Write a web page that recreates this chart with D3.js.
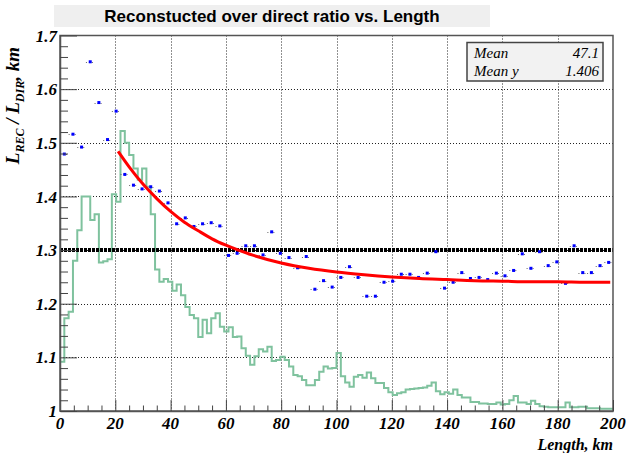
<!DOCTYPE html>
<html>
<head>
<meta charset="utf-8">
<script src="https://cdn.jsdelivr.net/npm/d3@7.9.0/dist/d3.min.js"></script>
<style>
  body { margin: 0; background: #fff; }
  svg { display: block; }
</style>
</head>
<body>
<div id="chart"></div>
<script>
// ---- data ----
const titleText = 'Reconstucted over direct ratio vs. Length';
const xTicks = [0, 20, 40, 60, 80, 100, 120, 140, 160, 180, 200];
const yTicks = [1, 1.1, 1.2, 1.3, 1.4, 1.5, 1.6, 1.7];
const yTickLabels = ['1', '1.1', '1.2', '1.3', '1.4', '1.5', '1.6', '1.7'];
const statsLabels = ['Mean', 'Mean y'];
const statsValues = ['47.1', '1.406'];
const refLevel = 1.3;

// profile: 64 bins over 0..200 km
const profileBins = 64;
const profileY = [
  1.479, 1.516, 1.492, 1.651, 1.575, 1.506, 1.559, 1.441, 1.421, 1.414,
  1.418, 1.410, 1.388, 1.349, 1.360, 1.344, 1.349, 1.351, 1.345, 1.290,
  1.294, 1.308, 1.308, 1.291, 1.334, 1.294, 1.286, 1.267, 1.288, 1.227,
  1.243, 1.231, 1.249, 1.269, 1.249, 1.214, 1.214, 1.240, 1.242, 1.255,
  1.255, 1.249, 1.257, 1.297, 1.229, 1.240, 1.258, 1.247, 1.249, 1.245,
  1.257, 1.252, 1.262, 1.293, 1.266, 1.297, 1.271, 1.278, 1.238, 1.308,
  1.258, 1.258, 1.271, 1.277
];

// length distribution (scaled into the frame), 128 bins over 0..200 km
const histBins = 128;
const histY = [
  1.092, 1.173, 1.185, 1.280, 1.337, 1.400, 1.400, 1.356, 1.367, 1.277,
  1.279, 1.283, 1.404, 1.390, 1.522, 1.500, 1.477, 1.452, 1.431, 1.452,
  1.418, 1.367, 1.264, 1.241, 1.246, 1.241, 1.224, 1.236, 1.216, 1.194,
  1.179, 1.173, 1.138, 1.170, 1.145, 1.173, 1.182, 1.157, 1.148, 1.156,
  1.138, 1.139, 1.117, 1.103, 1.086, 1.102, 1.115, 1.111, 1.120, 1.093,
  1.095, 1.101, 1.095, 1.083, 1.067, 1.065, 1.058, 1.048, 1.048, 1.058,
  1.073, 1.083, 1.079, 1.080, 1.108, 1.065, 1.053, 1.045, 1.064, 1.067,
  1.062, 1.072, 1.061, 1.052, 1.052, 1.043, 1.035, 1.030, 1.033, 1.035,
  1.040, 1.041, 1.042, 1.043, 1.044, 1.047, 1.053, 1.037, 1.031, 1.035,
  1.032, 1.040, 1.030, 1.025, 1.025, 1.017, 1.017, 1.014, 1.014, 1.013,
  1.013, 1.016, 1.012, 1.013, 1.020, 1.028, 1.016, 1.016, 1.013, 1.019,
  1.013, 1.009, 1.008, 1.007, 1.007, 1.007, 1.007, 1.016, 1.007, 1.007,
  1.008, 1.008, 1.005, 1.005, 1.005, 1.004, 1.004, 1.004
];

// fitted curve
const fitX = [21, 25, 30, 35, 40, 45, 50, 55, 60, 70, 80, 90, 100, 110, 120, 130, 140, 150, 160, 170, 180, 190, 199];
const fitY = [1.484, 1.455, 1.423, 1.396, 1.372, 1.352, 1.336, 1.321, 1.309, 1.290, 1.276, 1.266, 1.259, 1.254, 1.250, 1.247, 1.245, 1.243, 1.242, 1.241, 1.241, 1.240, 1.240];

// ---- layout ----
const width = 629;
const height = 453;
const frame = { left: 60, right: 613, top: 35.5, bottom: 411 };

const svg = d3.select('#chart')
  .append('svg')
  .attr('width', width)
  .attr('height', height);

const xScale = d3.scaleLinear().domain([0, 200]).range([frame.left, frame.right]);
const yScale = d3.scaleLinear().domain([1, 1.7]).range([frame.bottom, frame.top]);

// title box
svg.append('rect')
  .attr('x', 54).attr('y', 5)
  .attr('width', 436).attr('height', 22)
  .attr('fill', '#efefef');
svg.append('text')
  .attr('x', 272).attr('y', 22)
  .attr('text-anchor', 'middle')
  .style('font-family', '"Liberation Sans", Arial, sans-serif')
  .style('font-weight', 'bold')
  .style('font-size', '17px')
  .text(titleText);

// gridlines
const grid = svg.append('g').attr('class', 'grid')
  .attr('stroke', '#222')
  .attr('stroke-width', 1)
  .attr('stroke-dasharray', '1,2');

grid.selectAll('line.vx')
  .data(xTicks.slice(1, -1))
  .join('line')
  .attr('x1', d => Math.round(xScale(d)) + 0.5)
  .attr('x2', d => Math.round(xScale(d)) + 0.5)
  .attr('y1', frame.top)
  .attr('y2', frame.bottom);

grid.selectAll('line.hy')
  .data(yTicks.slice(1, -1))
  .join('line')
  .attr('x1', frame.left)
  .attr('x2', frame.right)
  .attr('y1', d => Math.round(yScale(d)) + 0.5)
  .attr('y2', d => Math.round(yScale(d)) + 0.5);

// histogram (step line)
const histBinW = 200 / histBins;
const histPts = histY.map((v, i) => [i * histBinW, v]);
histPts.push([200, histY[histY.length - 1]]);

svg.append('path')
  .datum(histPts)
  .attr('fill', 'none')
  .attr('stroke', '#7fc29e')
  .attr('stroke-width', 2)
  .attr('d', d3.line()
    .x(d => xScale(d[0]))
    .y(d => yScale(d[1]))
    .curve(d3.curveStepAfter));

// reference line at 1.3
svg.append('line')
  .attr('x1', frame.left).attr('x2', frame.right)
  .attr('y1', yScale(refLevel)).attr('y2', yScale(refLevel))
  .attr('stroke', '#000')
  .attr('stroke-width', 4)
  .attr('stroke-dasharray', '3,1');

// profile points with x error bars
const profBinW = 200 / profileBins;
const prof = profileY.map((v, i) => ({ x: (i + 0.5) * profBinW, y: v }));

const pts = svg.append('g').attr('class', 'points');

pts.selectAll('line')
  .data(prof)
  .join('line')
  .attr('x1', d => xScale(d.x - profBinW / 2))
  .attr('x2', d => xScale(d.x + profBinW / 2))
  .attr('y1', d => Math.round(yScale(d.y)) + 0.5)
  .attr('y2', d => Math.round(yScale(d.y)) + 0.5)
  .attr('stroke', '#666')
  .attr('stroke-width', 1)
  .attr('stroke-dasharray', '1,2');

pts.selectAll('rect')
  .data(prof)
  .join('rect')
  .attr('x', d => xScale(d.x) - 1.5)
  .attr('y', d => yScale(d.y) - 1.5)
  .attr('width', 3)
  .attr('height', 3)
  .attr('fill', '#0000ff');

// fit curve
svg.append('path')
  .datum(fitX.map((x, i) => [x, fitY[i]]))
  .attr('fill', 'none')
  .attr('stroke', '#ff0000')
  .attr('stroke-width', 3)
  .attr('d', d3.line()
    .x(d => xScale(d[0]))
    .y(d => yScale(d[1]))
    .curve(d3.curveMonotoneX));

// frame
svg.append('rect')
  .attr('x', frame.left).attr('y', frame.top)
  .attr('width', frame.right - frame.left)
  .attr('height', frame.bottom - frame.top)
  .attr('fill', 'none')
  .attr('stroke', '#555')
  .attr('stroke-width', 1.5);

// axes: ticks inside the frame
const labelFont = '"Liberation Serif", "Times New Roman", serif';

const xAxis = d3.axisTop(xScale)
  .tickValues(d3.range(0, 201, 5))
  .tickSize(0)
  .tickFormat('');
const xAxisG = svg.append('g')
  .attr('transform', `translate(0, ${frame.bottom})`)
  .call(xAxis);
xAxisG.select('.domain').attr('stroke', '#555').attr('stroke-width', 1.5);
xAxisG.selectAll('.tick line')
  .attr('y2', d => (d % 20 === 0 ? -11 : -5.5))
  .attr('stroke', '#444');

svg.append('g').selectAll('text')
  .data(xTicks)
  .join('text')
  .attr('x', d => xScale(d))
  .attr('y', 429)
  .attr('text-anchor', 'middle')
  .style('font-family', labelFont)
  .style('font-weight', 'bold')
  .style('font-style', 'italic')
  .style('font-size', '17px')
  .text(d => d);

const yAxis = d3.axisRight(yScale)
  .tickValues(d3.range(0, 36).map(i => 1 + i * 0.02))
  .tickSize(0)
  .tickFormat('');
const yAxisG = svg.append('g')
  .attr('transform', `translate(${frame.left}, 0)`)
  .call(yAxis);
yAxisG.select('.domain').attr('stroke', '#555').attr('stroke-width', 1.5);
yAxisG.selectAll('.tick line')
  .attr('x2', (d, i) => (i % 5 === 0 ? 17 : 8))
  .attr('stroke', '#444');

svg.append('g').selectAll('text')
  .data(yTicks)
  .join('text')
  .attr('x', 57)
  .attr('y', d => yScale(d))
  .attr('dy', '0.36em')
  .attr('text-anchor', 'end')
  .style('font-family', labelFont)
  .style('font-weight', 'bold')
  .style('font-style', 'italic')
  .style('font-size', '17px')
  .text((d, i) => yTickLabels[i]);

// axis titles
svg.append('text')
  .attr('x', 613).attr('y', 450)
  .attr('text-anchor', 'end')
  .style('font-family', labelFont)
  .style('font-weight', 'bold')
  .style('font-style', 'italic')
  .style('font-size', '16px')
  .text('Length, km');

const yTitle = svg.append('text')
  .attr('transform', 'translate(19, 47) rotate(-90)')
  .attr('text-anchor', 'end')
  .style('font-family', labelFont)
  .style('font-weight', 'bold')
  .style('font-style', 'italic')
  .style('font-size', '19px');
yTitle.append('tspan').text('L');
yTitle.append('tspan').attr('dy', 5).style('font-size', '12px').text('REC');
yTitle.append('tspan').attr('dy', -5).text(' / L');
yTitle.append('tspan').attr('dy', 5).style('font-size', '12px').text('DIR');
yTitle.append('tspan').attr('dy', -5).text(', km');

// stats box
svg.append('rect')
  .attr('x', 467).attr('y', 42.5)
  .attr('width', 136).attr('height', 38.5)
  .attr('fill', '#f2f2f2')
  .attr('stroke', '#444')
  .attr('stroke-width', 1.5);

const stats = svg.append('g')
  .style('font-family', labelFont)
  .style('font-style', 'italic')
  .style('font-size', '15px');
stats.selectAll('text.lab')
  .data(statsLabels)
  .join('text')
  .attr('x', 474)
  .attr('y', (d, i) => 57.5 + i * 18)
  .text(d => d);
stats.selectAll('text.val')
  .data(statsValues)
  .join('text')
  .attr('x', 599)
  .attr('y', (d, i) => 57.5 + i * 18)
  .attr('text-anchor', 'end')
  .text(d => d);
</script>
</body>
</html>
